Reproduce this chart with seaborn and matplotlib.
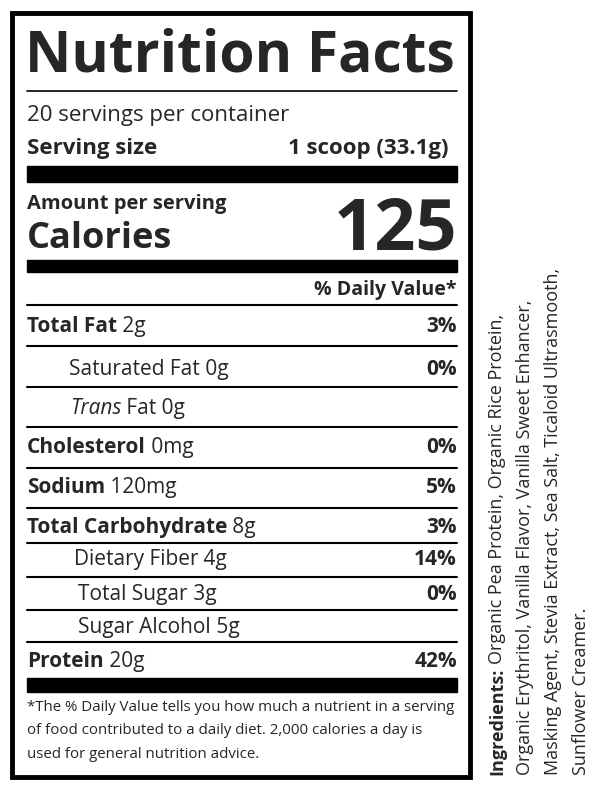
import seaborn as sns
import matplotlib.pyplot as plt

sns.set_theme(style="white")
plt.rcParams['font.family'] = ['Open Sans', 'DejaVu Sans']

# label contents
servings = "20 servings per container"
serving_size = "1 scoop (33.1g)"
calories = "125"
nutrients = ["Total Fat", "Saturated Fat", "Trans", "Cholesterol", "Sodium",
             "Total Carbohydrate", "Dietary Fiber", "Total Sugar", "Sugar Alcohol", "Protein"]
amounts = ["2g", "0g", "Fat 0g", "0mg", "120mg", "8g", "4g", "3g", "5g", "20g"]
daily_values = ["3%", "0%", "", "0%", "5%", "3%", "14%", "0%", "", "42%"]
bold_name = [True, False, False, True, True, True, False, False, False, True]
footnote = ["*The % Daily Value tells you how much a nutrient in a serving",
            "of food contributed to a daily diet. 2,000 calories a day is",
            "used for general nutrition advice."]
ingredients = ["Organic Pea Protein, Organic Rice Protein,",
               "Organic Erythritol, Vanilla Flavor, Vanilla Sweet Enhancer,",
               "Masking Agent, Stevia Extract, Sea Salt, Ticaloid Ultrasmooth,",
               "Sunflower Creamer."]

# layout (pixels)
row_base = [332, 375, 414, 453, 493, 533, 565, 600, 633, 667]
row_x = [27, 69, 70, 27, 27, 27, 74, 78, 78, 27]
sep_lines = [305, 346, 387, 427, 468, 508, 543, 577, 610, 642]
L, R = 27, 457

fig = plt.figure(figsize=(5.97, 7.90), dpi=100)
ax = fig.add_axes([0, 0, 1, 1])
ax.set_xlim(0, 597)
ax.set_ylim(790, 0)
ax.axis('off')

# outer box
ax.add_patch(plt.Rectangle((12, 13), 458, 764, fill=False, lw=3.5, ec='black'))

ax.text(L - 2, 72, "Nutrition Facts", fontsize=41, fontweight='bold', va='baseline')
ax.plot([L, R], [91, 91], color='black', lw=1.2)
ax.text(L, 121, servings, fontsize=16, va='baseline')
ax.text(L, 154, "Serving size", fontsize=16, fontweight='bold', va='baseline')
ax.text(R - 8, 154, serving_size, fontsize=16, fontweight='bold', va='baseline', ha='right')
ax.add_patch(plt.Rectangle((L, 166), R - L, 16, color='black'))
ax.text(L, 209, "Amount per serving", fontsize=14.5, fontweight='bold', va='baseline')
ax.text(L, 248, "Calories", fontsize=26, fontweight='bold', va='baseline')
ax.text(R, 250, calories, fontsize=52, fontweight='bold', va='baseline', ha='right')
ax.add_patch(plt.Rectangle((L, 260), R - L, 12, color='black'))
ax.text(R, 295, "% Daily Value*", fontsize=14, fontweight='bold', va='baseline', ha='right')

for y in sep_lines:
    ax.plot([L, R], [y, y], color='black', lw=1.5)

for name, amt, dv, b, y, x in zip(nutrients, amounts, daily_values, bold_name, row_base, row_x):
    style = 'italic' if name == "Trans" else 'normal'
    t = ax.text(x, y, name, fontsize=15, fontweight='bold' if b else 'normal',
                style=style, va='baseline')
    ax.annotate(" " + amt, xycoords=t, xy=(1, 0), va='bottom', fontsize=15)
    if dv:
        ax.text(R, y, dv, fontsize=15, fontweight='bold', va='baseline', ha='right')

ax.add_patch(plt.Rectangle((L, 678), R - L, 14, color='black'))
for i, line in enumerate(footnote):
    ax.text(L, 711 + i * 23.5, line, fontsize=10.8, va='baseline')

# rotated ingredients
xs = [502, 530, 558, 586]
t = ax.text(xs[0], 775, "Ingredients:", fontsize=13, fontweight='bold', rotation=90,
            va='baseline', ha='left', rotation_mode='anchor')
fig.canvas.draw()
bb = t.get_window_extent(fig.canvas.get_renderer())
# bottom-up text: top of bbox in display coords -> data y (inverted axis)
y_end = ax.transData.inverted().transform((0, bb.y1))[1]
ax.text(xs[0], y_end - 4, ingredients[0], fontsize=13, rotation=90, va='baseline',
        ha='left', rotation_mode='anchor')
for x, line in zip(xs[1:], ingredients[1:]):
    ax.text(x, 775, line, fontsize=13, rotation=90, va='baseline', ha='left',
            rotation_mode='anchor')

fig.savefig("out.png", dpi=100)
